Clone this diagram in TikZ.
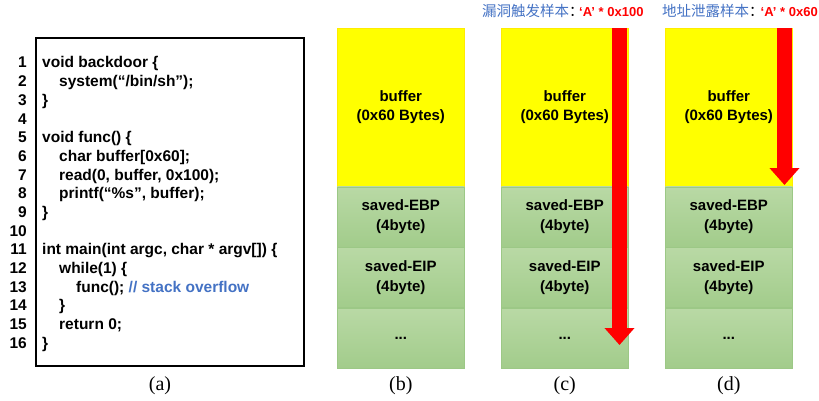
\documentclass[tikz,border=0pt]{standalone}
\usepackage{fontspec}
\setmainfont{Liberation Sans}
\newfontfamily\capfont{Liberation Serif}
\newfontfamily\cjk{Noto Sans CJK SC}
\usepackage{tikz}
\usetikzlibrary{arrows.meta,positioning,calc}
\definecolor{azul}{HTML}{4472C4}
\definecolor{amarillo}{HTML}{FFFF00}
\definecolor{verdeclaro}{HTML}{B9D9A5}
\definecolor{verdeoscuro}{HTML}{A2CC8B}
\definecolor{verdeborde}{HTML}{9CC886}
\definecolor{rojo}{HTML}{FF0000}

\begin{document}
\begin{tikzpicture}[
  x=1pt, y=-1pt,
  codefont/.style={font=\fontsize{15.5}{18.67}\selectfont\bfseries},
  ln/.style={codefont, anchor=base east, inner sep=0pt},
  src/.style={codefont, anchor=base west, inner sep=0pt},
  bufcell/.style={
    fill=amarillo, draw=amarillo!85!orange, line width=0.6pt,
    minimum width=127pt, minimum height=158pt, inner sep=0pt,
    align=center, font=\fontsize{15}{19}\selectfont\bfseries
  },
  slot/.style={
    top color=verdeclaro, bottom color=verdeoscuro, draw=verdeborde,
    line width=0.6pt, minimum width=127pt, minimum height=60pt,
    inner sep=0pt, align=center, font=\fontsize{15}{20}\selectfont\bfseries
  },
  sample/.style={anchor=base west, inner sep=0pt, font=\cjk\fontsize{14.5}{16}\selectfont},
  payload/.style={color=rojo, inner sep=0pt, font=\fontsize{13}{16}\selectfont\bfseries},
  subcap/.style={font=\capfont\fontsize{20}{22}\selectfont, inner sep=0pt},
  hit/.style={rojo, line width=15pt, -{Triangle[length=17pt, width=29pt]}}
]
  \useasboundingbox (0,0) rectangle (819,401);

  % source listing
  \node[draw, line width=1.6pt, minimum width=268pt, minimum height=328pt,
        anchor=north west, inner sep=0pt] (code) at (35,37) {};
  \foreach \k in {1,...,16}
    \node[ln] (n\k) at (27,{68+(\k-1)*18.67}) {\k};
  \node[src] (l1)  at (42,68)    {void backdoor \{};
  \node[src] (l2)  at (59,86.67) {system(“/bin/sh”);};
  \node[src] (l3)  at (42,105.3) {\}};
  \node[src] (l5)  at (42,142.7) {void func() \{};
  \node[src] (l6)  at (59,161.3) {char buffer[0x60];};
  \node[src] (l7)  at (59,180)   {read(0, buffer, 0x100);};
  \node[src] (l8)  at (59,198.7) {printf(“\%s”, buffer);};
  \node[src] (l9)  at (42,217.3) {\}};
  \node[src] (l11) at (42,254.7) {int main(int argc, char * argv[]) \{};
  \node[src] (l12) at (59,273.3) {while(1) \{};
  \node[src] (l13) at (76,292)   {func(); {\color{azul}// stack overflow}};
  \node[src] (l14) at (59,310.7) {\}};
  \node[src] (l15) at (59,329.3) {return 0;};
  \node[src] (l16) at (42,348)   {\}};

  % three copies of the stack frame
  \foreach \s/\x in {b/337, c/501, d/665} {
    \node[bufcell, anchor=north west] (buf\s) at (\x,28) {buffer\\(0x60 Bytes)};
    \node[slot, below=0pt of buf\s] (ebp\s) {saved-EBP\\(4byte)};
    \node[slot, below=0pt of ebp\s] (eip\s) {saved-EIP\\(4byte)};
    \node[slot, below=0pt of eip\s] (more\s) {...};
  }

  % payloads
  \node[sample] (trig) at (482,17) {{\color{azul}漏洞触发样本}：};
  \node[sample] (leak) at (662,17) {{\color{azul}地址泄露样本}：};
  \node[payload, anchor=base west] (trigA) at (579,17) {‘A’ * 0x100};
  \node[payload, anchor=base east] (leakA) at (818,17) {‘A’ * 0x60};

  \coordinate (topc) at (619.5,28);
  \coordinate (endc) at (619.5,345);
  \coordinate (topd) at (784.5,28);
  \coordinate (endd) at (784.5,185);
  \draw[hit] (topc) -- (endc);
  \draw[hit] (topd) -- (endd);

  % captions
  \node[subcap] (capa) at (160,386) {(a)};
  \node[subcap] (capb) at ($(bufb.north)+(0,358)$) {(b)};
  \node[subcap] (capc) at ($(bufc.north)+(0,358)$) {(c)};
  \node[subcap] (capd) at ($(bufd.north)+(0,358)$) {(d)};
\end{tikzpicture}
\end{document}
